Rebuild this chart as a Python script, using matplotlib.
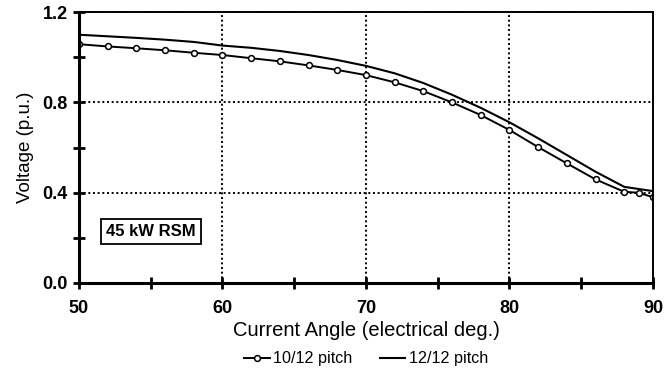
import matplotlib
matplotlib.use("Agg")
import matplotlib.pyplot as plt
from matplotlib.ticker import MultipleLocator

plt.rcParams['font.family'] = ['Liberation Sans', 'DejaVu Sans']

# current angle (electrical deg.) and terminal voltage (p.u.)
angle_10_12 = [50, 52, 54, 56, 58, 60, 62, 64, 66, 68, 70, 72, 74, 76, 78,
               80, 82, 84, 86, 88, 89, 90]
volt_10_12 = [1.058, 1.048, 1.040, 1.031, 1.020, 1.010, 0.996, 0.982, 0.964,
              0.944, 0.921, 0.889, 0.850, 0.800, 0.744, 0.678, 0.602, 0.530,
              0.459, 0.404, 0.400, 0.380]

angle_12_12 = [50, 52, 54, 56, 58, 60, 62, 64, 66, 68, 70, 72, 74, 76, 78,
               80, 82, 84, 86, 88, 90]
volt_12_12 = [1.100, 1.093, 1.086, 1.078, 1.068, 1.052, 1.042, 1.028, 1.010,
              0.988, 0.962, 0.929, 0.886, 0.834, 0.776, 0.712, 0.641, 0.567,
              0.493, 0.426, 0.407]

labels = ["10/12 pitch", "12/12 pitch"]
yticks = [0.0, 0.4, 0.8, 1.2]

fig = plt.figure(figsize=(6.69, 3.68), dpi=100)
ax = fig.add_axes([0.118, 0.231, 0.858, 0.736])

ax.plot(angle_10_12, volt_10_12, color='black', lw=1.4, marker='o',
        ms=4.2, mfc='white', mec='black', mew=1.1, label=labels[0])
ax.plot(angle_12_12, volt_12_12, color='black', lw=1.5, label=labels[1])

ax.set_xlim(50, 90)
ax.set_ylim(0.0, 1.2)
ax.xaxis.set_major_locator(MultipleLocator(10))
ax.xaxis.set_minor_locator(MultipleLocator(5))
ax.set_yticks(yticks)
ax.set_yticklabels([f"{v:.1f}" for v in yticks])
ax.yaxis.set_minor_locator(MultipleLocator(0.2))

ax.grid(True, which='major', color='black', linestyle=(0, (1, 1.4)), lw=1.4)

ax.tick_params(which='both', direction='inout', width=2, colors='black',
               length=8)
ax.tick_params(axis='y', pad=4)
ax.tick_params(axis='x', pad=8)
for lbl in ax.get_xticklabels() + ax.get_yticklabels():
    lbl.set_fontsize(13)
    lbl.set_fontweight('bold')

ax.spines['left'].set_linewidth(2.2)
ax.spines['bottom'].set_linewidth(2.2)
ax.spines['top'].set_linewidth(1.4)
ax.spines['right'].set_linewidth(1.4)

ax.set_xlabel("Current Angle (electrical deg.)", fontsize=14.5, labelpad=3)
ax.set_ylabel("Voltage (p.u.)", fontsize=13.5, labelpad=6)

ax.text(55.0, 0.228, "45 kW RSM", ha='center', va='center', fontsize=12,
        fontweight='bold',
        bbox=dict(boxstyle='square,pad=0.32', fc='white', ec='black', lw=1.3))

ax.legend(loc='center', bbox_to_anchor=(0.5, -0.28), ncol=2,
          frameon=False, fontsize=11.6, handlelength=1.6, handletextpad=0.2,
          columnspacing=1.7, borderaxespad=0, borderpad=0)

fig.savefig("out.png", dpi=100)
